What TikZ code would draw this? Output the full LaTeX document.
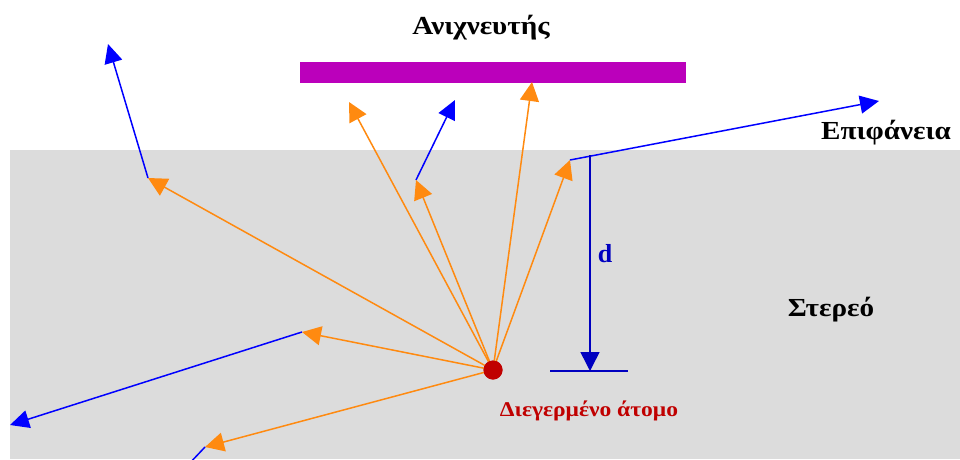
\documentclass[tikz,border=0pt]{standalone}
\usepackage{fontspec}
\setmainfont{Liberation Serif}
\newfontfamily\wideserif[FakeStretch=1.12]{Liberation Serif}
\usetikzlibrary{arrows.meta}
\definecolor{solidgrey}{HTML}{DCDCDC}
\definecolor{detcol}{HTML}{BB00BB}
\definecolor{orangec}{HTML}{FF8A10}
\definecolor{bluec}{HTML}{0000FF}
\definecolor{dblue}{HTML}{0000C0}
\definecolor{atomred}{HTML}{C00000}
\begin{document}
\begin{tikzpicture}[x=1pt,y=-1pt,
  orarrow/.style={draw=orangec,line width=1.5pt,-{Triangle[length=19pt,width=19pt,fill=orangec]}},
  blarrow/.style={draw=bluec,line width=1.5pt,-{Triangle[length=19pt,width=18pt,fill=bluec]}},
  blline/.style={draw=bluec,line width=1.5pt},
  lbl/.style={font=\wideserif\fontsize{26}{30}\selectfont\bfseries,text=black,inner sep=0pt},
  atomnode/.style={circle,fill=atomred,minimum size=19pt,inner sep=0pt}]
\useasboundingbox (0,0) rectangle (960,459);
\fill[solidgrey] (10,150) rectangle (960,459);
\fill[detcol] (300,62) rectangle (686,83);
\node[lbl] (det) at (481,28) {Ανιχνευτής};
\node[lbl] (surf) at (886,133) {Επιφάνεια};
\node[lbl] (solid) at (831,310) {Στερεό};
\node[lbl,text=atomred,font=\wideserif\fontsize{21}{24}\selectfont\bfseries] (atomlbl) at (589,411) {Διεγερμένο άτομο};
\node[lbl,text=dblue,font=\fontsize{26}{30}\selectfont\bfseries] (dlbl) at (605,254) {d};
% points
\coordinate (p1) at (148,178);
\coordinate (q1) at (108,44);
\coordinate (p2) at (349,102);
\coordinate (p3) at (416,180);
\coordinate (q3) at (455,100);
\coordinate (p4) at (532,82);
\coordinate (p5) at (570,160);
\coordinate (q5) at (879,101);
\coordinate (p6) at (302,332);
\coordinate (q6) at (10,425);
\coordinate (p7) at (205,447);
\coordinate (q7) at (188,465);
\coordinate (dtop) at (590,155);
\coordinate (dbot) at (590,371);
\coordinate (hl) at (550,371);
\coordinate (hr) at (628,371);
\node[atomnode] (atom) at (493,370) {};
% blue continuations
\draw[blarrow] (p1) -- (q1);
\draw[blarrow] (p3) -- (q3);
\draw[blarrow] (p5) -- (q5);
\draw[blarrow] (p6) -- (q6);
\begin{scope}
\clip (0,0) rectangle (960,459);
\draw[blline] (p7) -- (q7);
\end{scope}
% orange trajectories
\draw[orarrow] (atom.center) -- (p1);
\draw[orarrow] (atom.center) -- (p2);
\draw[orarrow] (atom.center) -- (p3);
\draw[orarrow] (atom.center) -- (p4);
\draw[orarrow] (atom.center) -- (p5);
\draw[orarrow] (atom.center) -- (p6);
\draw[orarrow] (atom.center) -- (p7);
\node[atomnode] at (atom) {};
% depth
\draw[dblue,line width=1.5pt,-{Triangle[length=19pt,width=19pt,fill=dblue]}] (dtop) -- (dbot);
\draw[dblue,line width=1.5pt] (hl) -- (hr);
\end{tikzpicture}
\end{document}
